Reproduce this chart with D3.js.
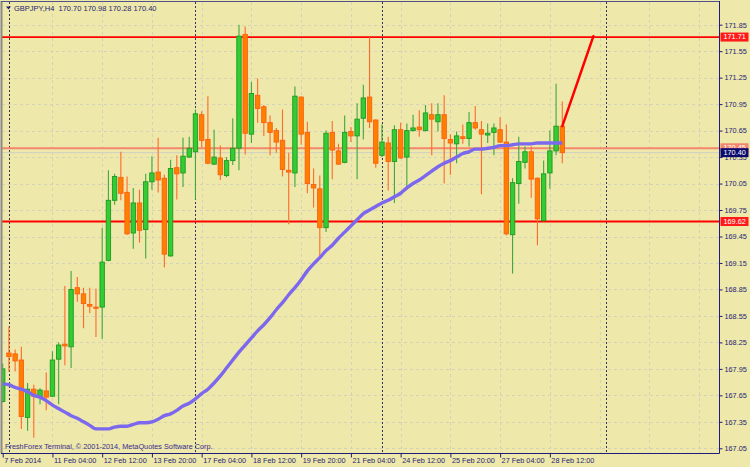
<!DOCTYPE html>
<html><head><meta charset="utf-8">
<script src="https://cdn.jsdelivr.net/npm/d3@7"></script>
<style>
html,body{margin:0;padding:0;background:#eee8aa;}
svg{display:block;}
text{font-family:"Liberation Sans",Arial,sans-serif;}
</style></head><body>
<svg id="c" width="750" height="467"></svg>
<script>
// ---------------- data ----------------
const symbolTitle = "GBPJPY,H4  170.70 170.98 170.28 170.40";
const copyright = "FreshForex Terminal, © 2001-2014, MetaQuotes Software Corp.";
const timeTickIndex = [0,8,16,24,32,40,48,56,64,72,80,88];
const timeTickLabels = ["7 Feb 2014","11 Feb 04:00","12 Feb 12:00","13 Feb 20:00","17 Feb 04:00","18 Feb 12:00","19 Feb 20:00","21 Feb 04:00","24 Feb 12:00","25 Feb 20:00","27 Feb 04:00","28 Feb 12:00"];
const priceTicks = [171.85,171.55,171.25,170.95,170.65,170.35,170.05,169.75,169.45,169.15,168.85,168.55,168.25,167.95,167.65,167.35,167.05];
const open = [167.58,168.13,168.12,168.05,167.40,167.72,167.63,167.70,167.64,168.06,
168.23,168.20,168.87,168.80,168.68,168.65,168.65,169.18,169.86,170.12,
169.95,169.49,169.83,169.53,170.07,170.18,170.11,169.23,170.23,170.17,
170.35,170.41,170.83,170.55,170.27,170.34,170.14,170.31,170.45,171.74,
170.61,171.05,170.92,170.74,170.65,170.54,170.20,170.17,171.03,170.63,
170.04,169.99,169.55,170.63,170.42,170.29,170.64,170.59,170.79,171.03,
170.77,170.37,170.51,170.30,170.66,170.35,170.65,170.69,170.65,170.83,
170.75,170.83,170.55,170.50,170.58,170.56,170.74,170.66,170.60,170.63,
170.66,170.52,169.47,170.05,170.29,170.41,170.11,169.63,170.17,170.42,
170.70];
const high = [168.01,168.43,168.17,168.20,167.79,167.77,167.73,167.91,168.15,168.25,
168.89,169.06,168.99,168.87,168.87,168.86,169.55,170.20,170.16,170.41,
170.13,170.00,169.98,170.16,170.36,170.57,170.15,170.32,170.37,170.57,
170.58,170.89,170.87,171.04,170.66,170.48,170.35,170.79,171.85,171.83,
171.20,171.24,170.94,170.82,170.68,170.89,170.40,171.15,171.04,170.75,
170.22,170.14,170.65,170.76,170.50,170.82,170.69,170.96,171.17,171.71,
170.78,170.72,170.58,170.71,170.74,170.73,170.83,170.88,170.94,170.96,
170.96,171.05,170.61,170.64,170.72,170.86,170.93,170.76,170.73,170.73,
170.80,170.72,170.11,170.58,170.47,170.47,170.12,170.31,170.65,171.18,
170.98];
const low = [167.57,167.92,167.92,167.27,167.25,167.17,167.55,167.48,167.63,167.55,
167.99,167.96,168.71,168.41,168.58,168.31,168.29,169.17,169.81,169.86,
169.47,169.31,169.38,169.20,169.98,169.95,169.10,169.22,169.87,170.01,
170.34,169.87,170.46,170.27,170.26,170.09,170.12,170.26,170.20,170.38,
170.51,170.74,170.59,170.37,170.40,170.13,169.59,170.01,170.49,169.94,
169.78,169.20,169.50,170.10,170.26,170.28,170.52,170.10,170.55,170.68,
170.23,170.35,169.97,169.83,170.33,169.98,170.64,170.58,170.64,170.37,
170.64,170.05,170.15,170.28,170.50,170.47,170.66,169.93,170.51,170.37,
170.51,169.46,169.03,169.82,170.22,169.89,169.35,169.62,169.99,170.37,
170.28];
const close = [167.95,168.09,168.04,167.41,167.72,167.64,167.71,167.63,168.05,168.22,
168.21,168.85,168.80,168.69,168.66,168.64,169.16,169.86,170.13,169.94,
169.48,169.83,169.52,170.07,170.17,170.09,169.25,170.22,170.16,170.36,
170.45,170.84,170.54,170.28,170.35,170.15,170.31,170.45,171.72,170.62,
171.07,170.90,170.74,170.63,170.52,170.21,170.18,171.04,170.61,170.05,
170.00,169.55,170.62,170.43,170.27,170.63,170.59,170.78,171.02,170.75,
170.28,170.52,170.30,170.66,170.34,170.65,170.68,170.66,170.85,170.78,
170.83,170.56,170.51,170.59,170.56,170.74,170.68,170.61,170.62,170.68,
170.52,169.48,170.06,170.30,170.41,170.10,169.65,170.16,170.42,170.70,
170.40];
const movingAverage = [167.78,167.77,167.74,167.72,167.69,167.65,167.63,167.59,167.54,167.50,
167.46,167.42,167.39,167.35,167.31,167.27,167.27,167.27,167.29,167.30,
167.30,167.32,167.34,167.34,167.35,167.38,167.42,167.44,167.48,167.53,
167.56,167.61,167.67,167.72,167.79,167.87,167.96,168.05,168.14,168.22,
168.30,168.38,168.45,168.53,168.62,168.70,168.79,168.87,168.96,169.06,
169.14,169.21,169.29,169.35,169.43,169.50,169.57,169.64,169.71,169.75,
169.79,169.83,169.86,169.90,169.94,170.00,170.05,170.09,170.14,170.19,
170.24,170.28,170.31,170.35,170.39,170.41,170.44,170.44,170.45,170.46,
170.48,170.48,170.49,170.50,170.50,170.50,170.51,170.51,170.51,170.51,
170.51];
const levelPrices = [171.71, 169.62];
const askPrice = 170.45;
const bidPrice = 170.40;
const separatorIndex = [1, 31, 61, 97];
const trendIndex = [90, 95];
const trendPrice = [170.70, 171.72];

// ---------------- layout ----------------
const W = 750, H = 467;
const plot = {left: 2, top: 2, right: 719.5, bottom: 453.5};
const svg = d3.select("#c");
const x = d3.scaleLinear().domain([0, 90]).range([2.7, 562.3]);
const y = d3.scaleLinear().domain([167.05, 171.85]).range([448.3, 24.7]);
const navy = "#1e1e78";
const fs = "7.3px";

svg.append("rect").attr("width", W).attr("height", H).attr("fill", "#eee8aa");

svg.append("defs").append("clipPath").attr("id", "pc")
  .append("rect").attr("x", plot.left).attr("y", plot.top)
  .attr("width", plot.right - plot.left).attr("height", plot.bottom - plot.top);

const g = svg.append("g").attr("clip-path", "url(#pc)");

// grid
g.selectAll(".hg").data(priceTicks).join("line")
  .attr("x1", plot.left).attr("x2", plot.right)
  .attr("y1", d => Math.round(y(d)) + 0.5).attr("y2", d => Math.round(y(d)) + 0.5)
  .attr("stroke", "#d4d2b8").attr("stroke-dasharray", "3,3");
g.selectAll(".vg").data(timeTickIndex.slice(1).concat([96, 104, 112])).join("line")
  .attr("x1", d => Math.round(x(d)) + 0.5).attr("x2", d => Math.round(x(d)) + 0.5)
  .attr("y1", plot.top).attr("y2", plot.bottom)
  .attr("stroke", "#d4d2b8").attr("stroke-dasharray", "3,3");

// period separators
g.selectAll(".sep").data(separatorIndex).join("line")
  .attr("x1", d => Math.round(x(d)) + 0.5).attr("x2", d => Math.round(x(d)) + 0.5)
  .attr("y1", plot.top).attr("y2", plot.bottom)
  .attr("stroke", "#34345a").attr("stroke-dasharray", "2,2");

// horizontal levels
g.append("line").attr("x1", plot.left).attr("x2", plot.right)
  .attr("y1", y(bidPrice)).attr("y2", y(bidPrice)).attr("stroke", "#cfcfc4").attr("stroke-width", 1);
g.append("line").attr("x1", plot.left).attr("x2", plot.right)
  .attr("y1", y(askPrice)).attr("y2", y(askPrice)).attr("stroke", "#f4866e").attr("stroke-width", 2);
g.selectAll(".lvl").data(levelPrices).join("line")
  .attr("x1", plot.left).attr("x2", plot.right)
  .attr("y1", d => y(d)).attr("y2", d => y(d))
  .attr("stroke", "#ff0000").attr("stroke-width", 1.8);

// candles
const bars = d3.range(open.length).map(i => ({i, o: open[i], h: high[i], l: low[i], c: close[i]}));
const cg = g.append("g");
cg.selectAll(".wick").data(bars).join("line")
  .attr("x1", d => x(d.i)).attr("x2", d => x(d.i))
  .attr("y1", d => y(d.h)).attr("y2", d => y(d.l))
  .attr("stroke", d => d.c >= d.o ? "#3fa83f" : "#ff6a2a").attr("stroke-width", 1.1);
cg.selectAll(".body").data(bars).join("rect")
  .attr("x", d => x(d.i) - 2.2).attr("width", 4.4)
  .attr("y", d => y(Math.max(d.o, d.c)))
  .attr("height", d => Math.max(1.2, Math.abs(y(d.o) - y(d.c))))
  .attr("fill", d => d.c >= d.o ? "#33cc33" : "#ff8000")
  .attr("stroke", d => d.c >= d.o ? "#1f9a1f" : "#ff5e10").attr("stroke-width", 0.9);

// moving average
g.append("path").datum(movingAverage)
  .attr("d", d3.line().x((d, i) => x(i)).y(d => y(d)).curve(d3.curveMonotoneX))
  .attr("fill", "none").attr("stroke", "#7b68ee").attr("stroke-width", 3.4)
  .attr("stroke-linejoin", "round");

// trend line
g.append("line")
  .attr("x1", x(trendIndex[0])).attr("y1", y(trendPrice[0]))
  .attr("x2", x(trendIndex[1])).attr("y2", y(trendPrice[1]))
  .attr("stroke", "#ff0000").attr("stroke-width", 2.5).attr("stroke-linecap", "round");

// frame
svg.append("line").attr("x1", 1.5).attr("x2", 1.5).attr("y1", 1).attr("y2", plot.bottom)
  .attr("stroke", "#8a8a8a").attr("stroke-width", 2);
svg.append("line").attr("x1", 1).attr("x2", plot.right).attr("y1", 1.5).attr("y2", 1.5)
  .attr("stroke", "#50508a").attr("stroke-width", 1);

// axes
const yAxis = d3.axisRight(y).tickValues(priceTicks).tickSize(3).tickPadding(2)
  .tickFormat(d3.format(".2f"));
const ya = svg.append("g").attr("transform", `translate(${plot.right},0)`).call(yAxis);
ya.select(".domain").attr("stroke", navy).attr("d", `M0,1V${plot.bottom}`);
ya.selectAll(".tick line").attr("stroke", navy);
ya.selectAll(".tick text").attr("fill", navy).attr("font-size", fs)
  .attr("font-family", "Liberation Sans, Arial, sans-serif");

const xAxis = d3.axisBottom(x).tickValues(timeTickIndex).tickSize(4).tickSizeOuter(0)
  .tickFormat((d, k) => timeTickLabels[k]);
const xa = svg.append("g").attr("transform", `translate(0,${plot.bottom})`).call(xAxis);
xa.select(".domain").attr("stroke", navy).attr("d", `M1,0H${plot.right}`);
xa.selectAll(".tick line").attr("stroke", navy);
xa.selectAll(".tick text").attr("fill", navy).attr("font-size", fs)
  .attr("font-family", "Liberation Sans, Arial, sans-serif")
  .attr("text-anchor", "start").attr("x", 1).attr("y", 4).attr("dy", "0.75em");

// price labels on axis
function priceBox(p, fill, txt, shift) {
  const yy = y(p) + shift;
  svg.append("rect").attr("x", plot.right + 1).attr("y", yy - 4.5).attr("width", 28).attr("height", 9)
    .attr("fill", fill);
  svg.append("text").attr("x", plot.right + 4).attr("y", yy).attr("dy", "0.33em")
    .attr("fill", "#ffffff").attr("font-size", fs).text(txt);
}
levelPrices.forEach(p => priceBox(p, "#ff1a1a", d3.format(".2f")(p), 0));
priceBox(askPrice, "#f4866e", d3.format(".2f")(askPrice), -0.5);
priceBox(bidPrice, "#0a0a6e", d3.format(".2f")(bidPrice), 0);

// title
svg.append("path").attr("d", "M6,6.5L11,6.5L8.5,9.5Z").attr("fill", navy);
svg.append("text").attr("x", 14).attr("y", 11).attr("fill", navy)
  .attr("font-size", "7.5px").attr("xml:space", "preserve").text(symbolTitle);

// copyright
svg.append("text").attr("x", 5).attr("y", 449).attr("fill", "#3c2c8c")
  .attr("font-size", fs).text(copyright);
</script>
</body></html>
